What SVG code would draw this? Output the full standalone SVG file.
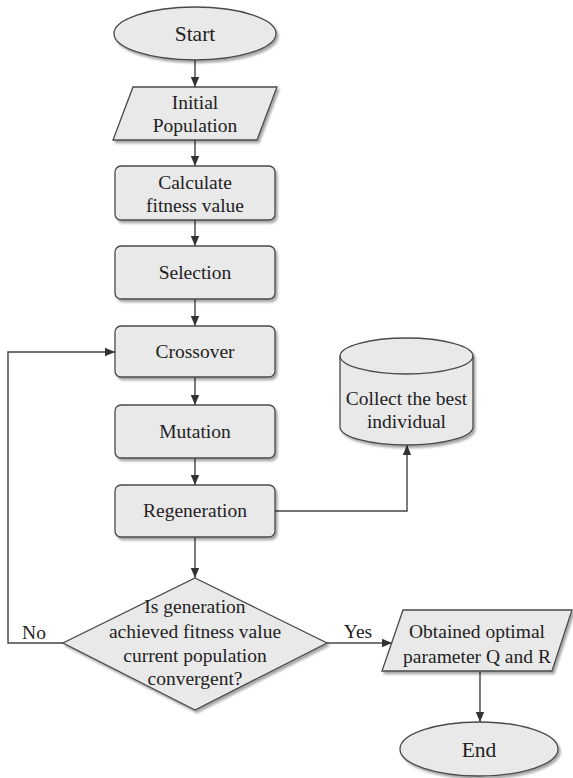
<svg xmlns="http://www.w3.org/2000/svg" width="573" height="778" viewBox="0 0 573 778">
<style>
.s{fill:#e9e9e9;stroke:#4a4a4a;stroke-width:1.3;filter:url(#sh)}
.c{fill:none;stroke:#444;stroke-width:1.4}
</style>
<defs>
<filter id="sh" x="-10%" y="-10%" width="130%" height="140%">
<feDropShadow dx="2" dy="2.5" stdDeviation="1.2" flood-color="#000" flood-opacity="0.35"/>
</filter>
<marker id="ar" markerWidth="10" markerHeight="10" viewBox="0 0 10 10" refX="10" refY="5" orient="auto" markerUnits="userSpaceOnUse">
<path d="M0,0.8 L10,5 L0,9.2 Z" fill="#333"/>
</marker>
</defs>
<rect width="573" height="778" fill="#fff"/>
<g font-family="Liberation Serif, DejaVu Serif, serif" font-size="19.5" fill="#222" text-anchor="middle">
<g id="connectors">
<line class="c" x1="195" y1="60" x2="195" y2="87" marker-end="url(#ar)"/>
<line class="c" x1="195" y1="140" x2="195" y2="166" marker-end="url(#ar)"/>
<line class="c" x1="195" y1="220" x2="195" y2="246" marker-end="url(#ar)"/>
<line class="c" x1="195" y1="299" x2="195" y2="326" marker-end="url(#ar)"/>
<line class="c" x1="195" y1="377" x2="195" y2="405" marker-end="url(#ar)"/>
<line class="c" x1="195" y1="458" x2="195" y2="485" marker-end="url(#ar)"/>
<line class="c" x1="195" y1="537" x2="195" y2="578" marker-end="url(#ar)"/>
<polyline class="c" points="275,511 407,511 407,445" marker-end="url(#ar)"/>
<polyline class="c" points="63,643 8,643 8,352 115,352" marker-end="url(#ar)"/>
<line class="c" x1="327" y1="643" x2="392" y2="643" marker-end="url(#ar)"/>
<line class="c" x1="480" y1="671" x2="480" y2="722" marker-end="url(#ar)"/>
<text x="34" y="639">No</text>
<text x="358" y="638">Yes</text>
</g>
<g id="start">
<ellipse class="s" cx="195" cy="33.5" rx="81" ry="26.5"/>
<text x="195" y="41" font-size="21.5">Start</text>
</g>
<g id="initial">
<polygon class="s" points="133,87 277,87 257,140 113,140"/>
<text x="195" y="109">Initial</text>
<text x="195" y="132">Population</text>
</g>
<g id="calc">
<rect class="s" x="115" y="166" width="160" height="54" rx="6"/>
<text x="195" y="189">Calculate</text>
<text x="195" y="212">fitness value</text>
</g>
<g id="selection">
<rect class="s" x="115" y="246" width="160" height="53" rx="6"/>
<text x="195" y="279">Selection</text>
</g>
<g id="crossover">
<rect class="s" x="115" y="326" width="160" height="51" rx="6"/>
<text x="195" y="358">Crossover</text>
</g>
<g id="mutation">
<rect class="s" x="115" y="405" width="160" height="53" rx="6"/>
<text x="195" y="438">Mutation</text>
</g>
<g id="regeneration">
<rect class="s" x="115" y="485" width="160" height="52" rx="6"/>
<text x="195" y="517">Regeneration</text>
</g>
<g id="collect">
<path class="s" d="M340,356 L340,427 A66.5,18 0 0 0 473,427 L473,356 A66.5,18 0 0 0 340,356 Z"/>
<path d="M340,356 A66.5,18 0 0 0 473,356" fill="none" stroke="#4a4a4a" stroke-width="1.3"/>
<text x="406.5" y="405">Collect the best</text>
<text x="406.5" y="428">individual</text>
</g>
<g id="decision">
<polygon class="s" points="195,578 327,643 195,710 63,643"/>
<text x="195" y="613">Is generation</text>
<text x="195" y="638">achieved fitness value</text>
<text x="195" y="662">current population</text>
<text x="195" y="685">convergent?</text>
</g>
<g id="obtained">
<polygon class="s" points="403,610 572,610 552,671 382,671"/>
<text x="477" y="638">Obtained optimal</text>
<text x="477" y="663">parameter Q and R</text>
</g>
<g id="end">
<ellipse class="s" cx="479" cy="749" rx="79" ry="27"/>
<text x="479" y="757" font-size="21.5">End</text>
</g>
</g>
</svg>
